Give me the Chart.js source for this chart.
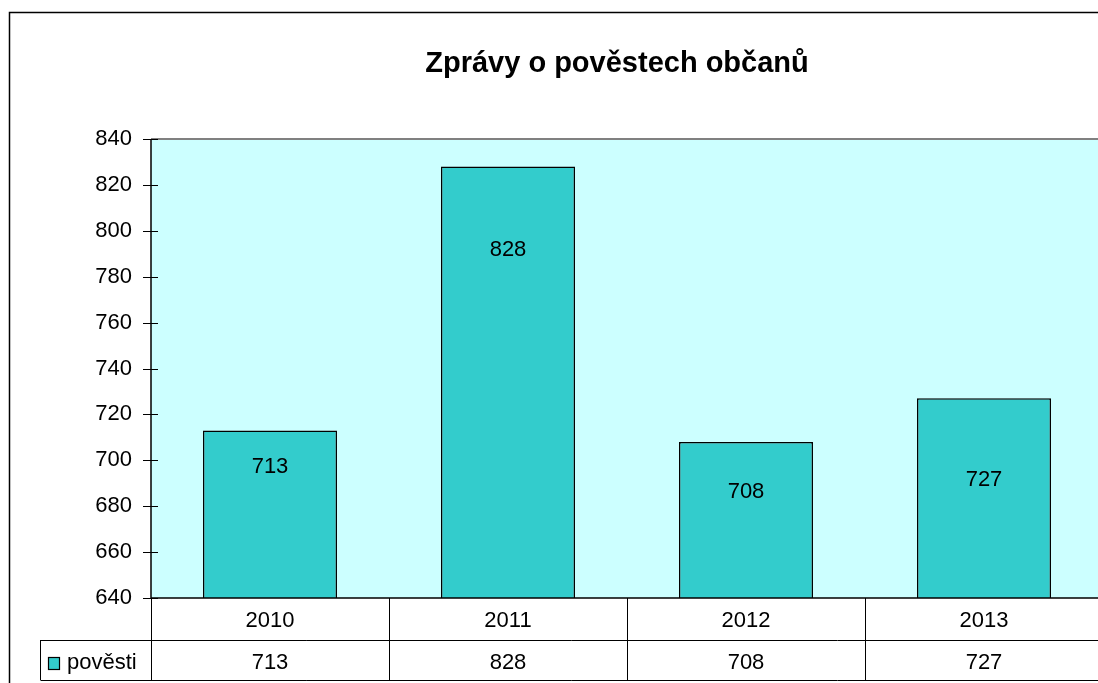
<!DOCTYPE html>
<html><head><meta charset="utf-8">
<script src="https://cdn.jsdelivr.net/npm/chart.js@4/dist/chart.umd.min.js"></script>
<style>html,body{margin:0;padding:0;overflow:hidden;background:#fff;width:1098px;height:683px}canvas{display:block}</style>
</head><body>
<canvas id="c" width="1230" height="683"></canvas>
<script>
const title = "Zprávy o pověstech občanů";
const categories = ["2010", "2011", "2012", "2013"];
const seriesName = "pověsti";
const values = [713, 828, 708, 727];
const yTicks = [640, 660, 680, 700, 720, 740, 760, 780, 800, 820, 840];

const FONT = "'Liberation Sans', Arial, sans-serif";
const BAR = "#33CCCC", PLOT_BG = "#CCFFFF";
const TXT = 22;

const decor = {
  id: "decor",
  beforeDraw(chart) {
    const ctx = chart.ctx, a = chart.chartArea;
    ctx.save();
    ctx.fillStyle = "#fff"; ctx.fillRect(0, 0, chart.width, chart.height);
    ctx.fillStyle = PLOT_BG; ctx.fillRect(a.left, a.top, a.right - a.left, a.bottom - a.top);
    ctx.restore();
  },
  afterDatasetsDraw(chart, args, opts) {
    const ctx = chart.ctx, a = chart.chartArea;
    const xs = chart.scales.x, ys = chart.scales.y;
    ctx.save();
    // outer border
    ctx.strokeStyle = "#000"; ctx.lineWidth = 1.5;
    ctx.beginPath(); ctx.moveTo(9.5, chart.height); ctx.lineTo(9.5, 12.5); ctx.lineTo(chart.width - 5, 12.5); ctx.stroke();
    // plot top border
    ctx.strokeStyle = "#808080"; ctx.lineWidth = 2;
    ctx.beginPath(); ctx.moveTo(a.left, a.top); ctx.lineTo(a.right, a.top); ctx.stroke();
    // axes
    ctx.strokeStyle = "#000"; ctx.lineWidth = 1.5;
    ctx.beginPath(); ctx.moveTo(a.left, a.top); ctx.lineTo(a.left, a.bottom); ctx.lineTo(a.right, a.bottom); ctx.stroke();
    ctx.lineWidth = 1;
    ys.ticks.forEach(t => {
      const y = Math.round(ys.getPixelForValue(t.value)) + 0.5;
      ctx.beginPath(); ctx.moveTo(a.left - 8, y); ctx.lineTo(a.left + 7, y); ctx.stroke();
    });
    // value labels
    const meta = chart.getDatasetMeta(0);
    ctx.fillStyle = "#000"; ctx.font = TXT + "px " + FONT; ctx.textAlign = "center"; ctx.textBaseline = "alphabetic";
    meta.data.forEach((bar, i) => {
      ctx.fillText(String(values[i]), bar.x, bar.y + opts.labelOffsets[i]);
    });
    // data table
    const half = (xs.getPixelForValue(1) - xs.getPixelForValue(0)) / 2;
    const r1 = a.bottom, r2 = a.bottom + 42, r3 = a.bottom + 82;
    ctx.strokeStyle = "#000"; ctx.lineWidth = 1;
    ctx.beginPath();
    ctx.moveTo(40.5, r2 + 0.5); ctx.lineTo(a.right, r2 + 0.5);
    ctx.moveTo(40.5, r3 + 0.5); ctx.lineTo(a.right, r3 + 0.5);
    ctx.moveTo(40.5, r2); ctx.lineTo(40.5, r3);
    ctx.moveTo(a.left + 0.5, r1); ctx.lineTo(a.left + 0.5, r3);
    categories.forEach((c, i) => {
      const xr = Math.round(xs.getPixelForValue(i) + half) + 0.5;
      ctx.moveTo(xr, r1); ctx.lineTo(xr, r3);
    });
    ctx.stroke();
    categories.forEach((c, i) => {
      const x = xs.getPixelForValue(i);
      ctx.fillText(c, x, r1 + 29);
      ctx.fillText(String(values[i]), x, r2 + 29);
    });
    // legend key
    ctx.fillStyle = BAR; ctx.fillRect(48.5, 657.5, 11, 12);
    ctx.strokeStyle = "#000"; ctx.lineWidth = 1.2; ctx.strokeRect(48.5, 657.5, 11, 12);
    ctx.fillStyle = "#000"; ctx.textAlign = "left";
    ctx.fillText(seriesName, 67, r2 + 29);
    // title
    ctx.font = "bold 29px " + FONT; ctx.textAlign = "center";
    ctx.fillText(title, 617, 72);
    ctx.restore();
  }
};

new Chart(document.getElementById("c"), {
  type: "bar",
  data: {
    labels: categories,
    datasets: [{
      label: seriesName, data: values,
      backgroundColor: BAR, borderColor: "#000", borderWidth: 1.5, borderSkipped: false,
      categoryPercentage: 1, barPercentage: 0.563
    }]
  },
  options: {
    responsive: false, animation: false, devicePixelRatio: 1,
    layout: { padding: { left: 0, top: 139, bottom: 85, right: 127 } },
    plugins: {
      legend: { display: false }, tooltip: { enabled: false }, title: { display: false },
      decor: { labelOffsets: [43, 89, 56, 88] }
    },
    scales: {
      x: { display: false, grid: { display: false } },
      y: {
        min: 640, max: 840,
        afterFit(s) { s.width = 151; },
        afterBuildTicks(s) { s.ticks = yTicks.map(v => ({ value: v })); },
        grid: { display: false, drawTicks: false }, border: { display: false },
        ticks: { padding: 19, color: "#000", font: { family: FONT, size: TXT } }
      }
    }
  },
  plugins: [decor]
});
</script>
</body></html>
